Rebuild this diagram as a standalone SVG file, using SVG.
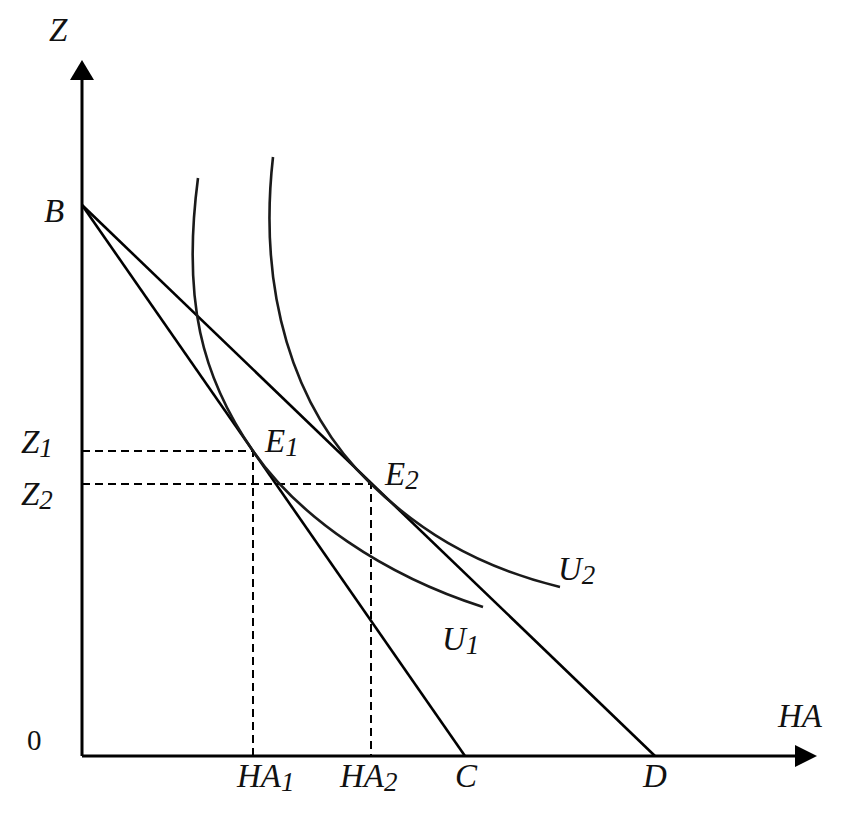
<svg xmlns="http://www.w3.org/2000/svg" width="851" height="824" viewBox="0 0 851 824">
<style>
.ax{stroke:#000;stroke-width:3;fill:none}
.ln{stroke:#000;stroke-width:2.6;fill:none}
.cv{stroke:#1a1a1a;stroke-width:2.6;fill:none}
.da{stroke:#000;stroke-width:2;fill:none;stroke-dasharray:8 5}
text{font-family:"Liberation Serif","Times New Roman",serif;font-style:italic;font-size:33px;fill:#111}
.sub{font-size:27px}
</style>
<rect width="851" height="824" fill="#fff"/>
<g id="axes">
<line class="ax" x1="82" y1="756" x2="82" y2="78"/>
<polygon points="82,60 70,80 94,80" fill="#000"/>
<line class="ax" x1="82" y1="756" x2="798" y2="756"/>
<polygon points="817,756 795,745 795,767" fill="#000"/>
</g>
<g id="connectors">
<line class="ln" x1="82" y1="205" x2="465" y2="756"/>
<line class="ln" x1="82" y1="205" x2="655" y2="756"/>
<path class="da" d="M82,451 H253 V756"/>
<path class="da" d="M82,484 H371 V756"/>
</g>
<g id="U1">
<path class="cv" d="M198,178 C182,300 201.6,377 253,451 C298.7,516.7 383,575 483,607"/>
</g>
<g id="U2">
<path class="cv" d="M273,157 C258,290 291.7,407.8 371,484 C414,525.6 470,565 560,587"/>
</g>
<g id="labels">
<text x="49" y="41">Z</text>
<text x="44" y="222">B</text>
<text x="21" y="453">Z<tspan class="sub" dy="4">1</tspan></text>
<text x="21" y="505">Z<tspan class="sub" dy="4">2</tspan></text>
<text x="27" y="750" style="font-style:normal;font-size:29px">0</text>
<text x="778" y="727">HA</text>
<text x="237" y="787">HA<tspan class="sub" dy="4">1</tspan></text>
<text x="340" y="787">HA<tspan class="sub" dy="4">2</tspan></text>
<text x="455" y="787">C</text>
<text x="643" y="787">D</text>
<text x="265" y="452">E<tspan class="sub" dy="4">1</tspan></text>
<text x="385" y="485">E<tspan class="sub" dy="4">2</tspan></text>
<text x="558" y="580">U<tspan class="sub" dy="4">2</tspan></text>
<text x="442" y="650">U<tspan class="sub" dy="4">1</tspan></text>
</g>
</svg>
